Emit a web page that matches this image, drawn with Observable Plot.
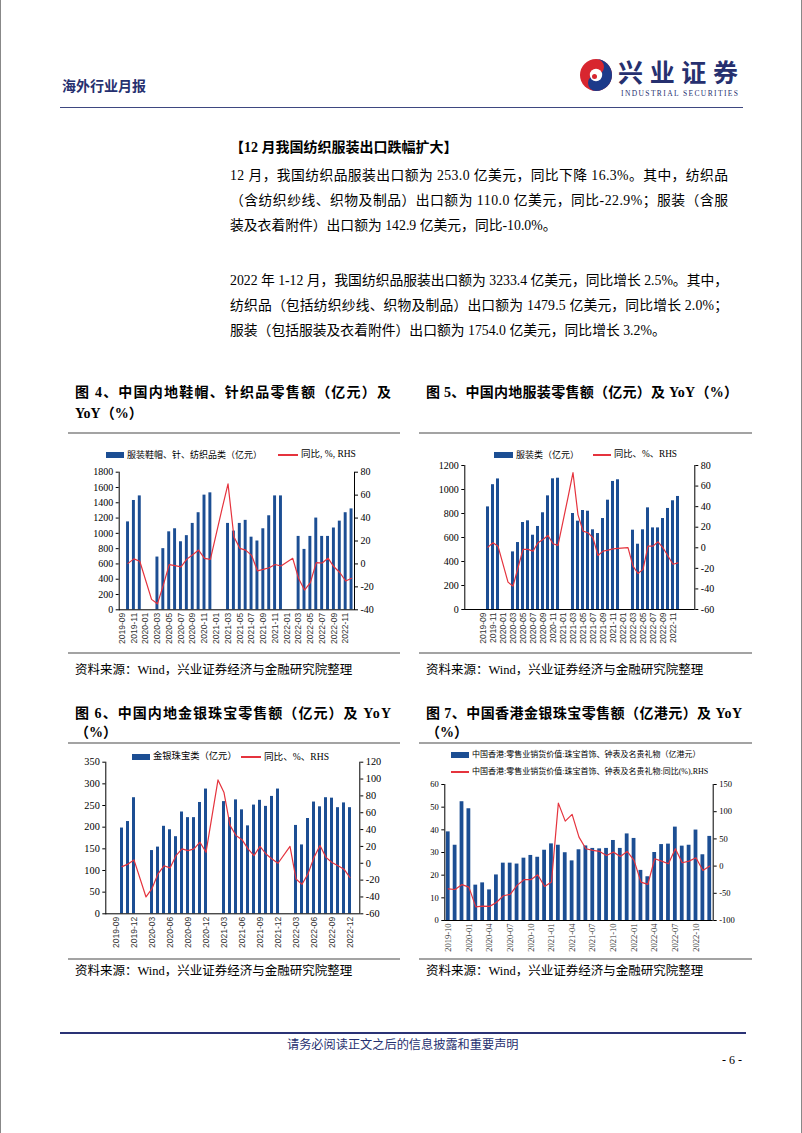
<!DOCTYPE html>
<html><head><meta charset="utf-8">
<script src="https://cdn.jsdelivr.net/npm/d3@7"></script>
<script src="https://cdn.jsdelivr.net/npm/@observablehq/plot@0.6"></script>
<style>
body{margin:0;background:#fff}
#page{position:relative;width:802px;height:1133px;overflow:hidden;background:#fff;
  font-family:"Liberation Serif","Noto Sans CJK SC",serif;border-left:1px solid #888;border-right:1px solid #888;box-sizing:border-box}
.t{position:absolute;white-space:nowrap;color:#000}
.abs{position:absolute}
</style></head>
<body><div id="page"></div>
<script>
// ---------- data ----------
const monthsA = ["2019-09","2019-10","2019-11","2019-12",
 "2020-01","2020-02","2020-03","2020-04","2020-05","2020-06","2020-07","2020-08","2020-09","2020-10","2020-11","2020-12",
 "2021-01","2021-02","2021-03","2021-04","2021-05","2021-06","2021-07","2021-08","2021-09","2021-10","2021-11","2021-12",
 "2022-01","2022-02","2022-03","2022-04","2022-05","2022-06","2022-07","2022-08","2022-09","2022-10","2022-11","2022-12"];
const monthsB = ["2019-10","2019-11","2019-12",
 "2020-01","2020-02","2020-03","2020-04","2020-05","2020-06","2020-07","2020-08","2020-09","2020-10","2020-11","2020-12",
 "2021-01","2021-02","2021-03","2021-04","2021-05","2021-06","2021-07","2021-08","2021-09","2021-10","2021-11","2021-12",
 "2022-01","2022-02","2022-03","2022-04","2022-05","2022-06","2022-07","2022-08","2022-09","2022-10","2022-11","2022-12"];

// Chart 4: 服装鞋帽、针、纺织品类（亿元） and YoY
const sales4 = [null,1150,1430,1490,
 null,null,690,800,1020,1060,890,970,1130,1270,1500,1530,
 null,null,1130,1030,1130,1170,950,900,1060,1230,1490,1490,
 null,null,960,790,960,1200,960,960,1070,1160,1270,1320];
const yoy4 = [null,0.5,4.4,2.3,
 null,-30.9,-34.8,-18.5,-0.6,-1.5,-2.5,4.2,8.0,12.1,4.8,4.0,
 null,48.4,69.8,23.7,13.6,12.0,7.5,-6.0,-4.8,-3.3,-0.5,-1.8,
 null,4.9,-12.7,-22.8,-16.2,1.2,0.8,5.0,-2.5,-7.5,-14.9,-12.5];

// Chart 5: 服装类（亿元） and YoY
const sales5 = [null,855,1040,1088,
 null,null,480,558,725,739,619,692,806,947,1089,1094,
 null,null,800,736,825,819,664,633,758,911,1067,1081,
 null,null,661,544,664,847,680,680,758,842,906,942];
const yoy5 = [null,0.6,4.9,1.6,
 null,-33.4,-37.3,-19.4,-1.6,-1.6,-3.2,4.9,8.1,12.0,3.9,2.3,
 null,49,73,32,16.2,14.6,9.7,-7.5,-3.2,-2.3,-1.0,-0.6,
 null,0.2,-17.8,-25,-21,1.6,1.6,5.8,0,-8,-16,-14.6];

// Chart 6: 金银珠宝类（亿元） and YoY
const sales6 = [null,198,213,268,
 null,null,146,154,202,194,178,235,222,222,257,288,
 null,null,259,222,263,240,203,251,262,248,271,288,
 null,null,204,159,220,258,247,268,267,245,256,245];
const yoy6 = [null,-4,-1,4,
 null,-40,-30,-12.6,-3,-5.5,9,17,15,17,25,13,
 null,99,84,45,33,28,17,9,20,11,5,0,
 null,20,-18.6,-25,-12.6,7,21,7,1,-3,-7,-17];

// Chart 7: 中国香港 珠宝首饰、钟表及名贵礼物（亿港元） and YoY
const sales7 = [39.1,33.2,52.4,
 49.3,15.6,16.6,13.5,20.1,25.3,25.3,24.9,27.5,28.7,27.9,31.0,
 33.8,33.2,29.9,26.3,31.2,32.9,31.8,31.6,31.8,35.3,31.8,38.2,
 36.2,22.1,19.3,30.0,33.5,33.7,41.2,32.8,33.2,39.9,29.0,37.1];
const yoy7 = [-41.7,-43,-34,
 -38.6,-75,-73.5,-74,-67,-54.5,-52,-35.5,-25,-25,-16,-37.4,
 -29.4,115.8,82.7,95,53.3,31.9,28.8,27,19.6,25.7,17.8,27,
 10.4,-29.4,-33.7,13.5,9.2,4.3,31.9,6.1,9.2,15.3,-8,0];

const ticks4 = ["2019-09","2019-11","2020-01","2020-03","2020-05","2020-07","2020-09","2020-11","2021-01","2021-03","2021-05","2021-07","2021-09","2021-11","2022-01","2022-03","2022-05","2022-07","2022-09","2022-11"];
const ticks6 = ["2019-09","2019-12","2020-03","2020-06","2020-09","2020-12","2021-03","2021-06","2021-09","2021-12","2022-03","2022-06","2022-09","2022-12"];
const ticks7 = ["2019-10","2020-01","2020-04","2020-07","2020-10","2021-01","2021-04","2021-07","2021-10","2022-01","2022-04","2022-07","2022-10"];

const left4 = [0,200,400,600,800,1000,1200,1400,1600,1800], right4 = [-40,-20,0,20,40,60,80];
const left5 = [0,200,400,600,800,1000,1200], right5 = [-60,-40,-20,0,20,40,60,80];
const left6 = [0,50,100,150,200,250,300,350], right6 = [-60,-40,-20,0,20,40,60,80,100,120];
const left7 = [0,10,20,30,40,50,60], right7 = [-100,-50,0,50,100,150];

// ---------- page helpers ----------
const BLUE = "#1c4e93", RED = "#e5333d", NAVY = "#26306f";
const page = document.getElementById("page");
function txt(x, y, s, o = {}) {
  const d = document.createElement("div");
  const size = o.size || 14;
  d.className = "t";
  d.textContent = s;
  d.style.left = x + "px";
  d.style.top = (y - size * 0.6) + "px";
  d.style.fontSize = size + "px";
  d.style.lineHeight = (size * 1.2) + "px";
  d.style.height = (size * 1.2) + "px";
  if (o.weight) d.style.fontWeight = o.weight;
  if (o.color) d.style.color = o.color;
  if (o.family) d.style.fontFamily = o.family;
  page.appendChild(d);
  if (o.width) {
    const w = d.getBoundingClientRect().width;
    const n = [...s].length;
    d.style.letterSpacing = ((o.width - w) / (n - 1)) + "px";
  }
  return d;
}
function box(x, y, w, h, color) {
  const d = document.createElement("div");
  d.className = "abs";
  Object.assign(d.style, {left: x + "px", top: y + "px", width: w + "px", height: h + "px", background: color});
  page.appendChild(d);
}

// ---------- header ----------
txt(61, 87, "海外行业月报", {size: 14, weight: 700, color: NAVY});
box(59, 106.5, 683, 1.5, "#3e4780");
const logo = document.createElementNS("http://www.w3.org/2000/svg", "svg");
logo.setAttribute("width", 170); logo.setAttribute("height", 50);
logo.style.position = "absolute"; logo.style.left = "574px"; logo.style.top = "52px";
logo.innerHTML = `
  <circle cx="21" cy="23" r="16" fill="#d8262f"/>
  <path d="M21,7 A16,16 0 0 1 21,39 A8,8 0 0 1 21,23 A8,8 0 0 0 21,7 Z" fill="#1d3a8a"/>
  <circle cx="21" cy="23" r="6.2" fill="#fff"/>
  <circle cx="19.5" cy="24.5" r="2.5" fill="#d8262f"/>
  <text x="43" y="30" font-family="Noto Sans CJK SC" font-weight="700" font-size="25" fill="${NAVY}" textLength="120" lengthAdjust="spacing">兴业证券</text>
  <text x="46" y="44" font-family="Liberation Serif" font-size="7.5" fill="${NAVY}" textLength="117" lengthAdjust="spacing">INDUSTRIAL SECURITIES</text>`;
page.appendChild(logo);

// ---------- body text ----------
txt(229, 148, "【12 月我国纺织服装出口跌幅扩大】", {size: 14, weight: 700});
const PW = 498, PS = 13.8;
txt(229, 176, "12 月，我国纺织品服装出口额为 253.0 亿美元，同比下降 16.3%。其中，纺织品", {size: PS, width: PW});
txt(229, 201, "（含纺织纱线、织物及制品）出口额为 110.0 亿美元，同比-22.9%；服装（含服", {size: PS, width: PW});
txt(229, 226, "装及衣着附件）出口额为 142.9 亿美元，同比-10.0%。", {size: PS});
txt(229, 281, "2022 年 1-12 月，我国纺织品服装出口额为 3233.4 亿美元，同比增长 2.5%。其中，", {size: PS, width: PW});
txt(229, 306, "纺织品（包括纺织纱线、织物及制品）出口额为 1479.5 亿美元，同比增长 2.0%；", {size: PS, width: PW});
txt(229, 331, "服装（包括服装及衣着附件）出口额为 1754.0 亿美元，同比增长 3.2%。", {size: PS});

// ---------- chart titles, rules, sources ----------
const TS = 14;
txt(74, 393, "图 4、中国内地鞋帽、针织品零售额（亿元）及", {size: TS, weight: 700, width: 316});
txt(74, 414, "YoY（%）", {size: TS, weight: 700});
txt(425, 393, "图 5、中国内地服装零售额（亿元）及 YoY（%）", {size: TS, weight: 700, width: 312});
box(67, 431.5, 332, 2, "#a3a3a3"); box(418, 431.5, 333, 2, "#a3a3a3");
box(67, 651.5, 332, 2, "#a3a3a3"); box(418, 651.5, 333, 2, "#a3a3a3");
txt(74, 670, "资料来源：Wind，兴业证券经济与金融研究院整理", {size: 12.5});
txt(425, 670, "资料来源：Wind，兴业证券经济与金融研究院整理", {size: 12.5});

txt(74, 714, "图 6、中国内地金银珠宝零售额（亿元）及 YoY", {size: TS, weight: 700, width: 316});
txt(74, 733, "（%）", {size: TS, weight: 700});
txt(425, 714, "图 7、中国香港金银珠宝零售额（亿港元）及 YoY", {size: TS, weight: 700, width: 316});
txt(425, 733, "（%）", {size: TS, weight: 700});
box(67, 741.5, 332, 2, "#a3a3a3"); box(418, 741.5, 333, 2, "#a3a3a3");
box(67, 958, 332, 2, "#a3a3a3"); box(418, 958, 333, 2, "#a3a3a3");
txt(74, 971, "资料来源：Wind，兴业证券经济与金融研究院整理", {size: 12.5});
txt(425, 971, "资料来源：Wind，兴业证券经济与金融研究院整理", {size: 12.5});

// ---------- footer ----------
box(58.5, 1031.5, 686, 2, "#2a3275");
txt(286, 1045, "请务必阅读正文之后的信息披露和重要声明", {size: 12.2, color: NAVY});
txt(721, 1060, "- 6 -", {size: 12});

// ---------- legends ----------
function legendBar(x, y, w, label, size) { box(x, y - 3, w, 6, BLUE); txt(x + w + 3, y, label, {size}); }
function legendLine(x, y, w, label, size) { box(x, y - 0.6, w, 1.3, RED); txt(x + w + 3, y, label, {size}); }
legendBar(105, 455, 18, "服装鞋帽、针、纺织品类（亿元）", 9);
legendLine(277, 455, 20, "同比, %, RHS", 9.5);
legendBar(493, 455, 19, "服装类（亿元）", 9);
legendLine(592, 455, 18, "同比、%、RHS", 9.3);
legendBar(131, 757, 18, "金银珠宝类（亿元）", 9.3);
legendLine(240, 757, 20, "同比、%、RHS", 9.6);
legendBar(450, 755, 18, "中国香港:零售业销货价值:珠宝首饰、钟表及名贵礼物（亿港元）", 8);
legendLine(450, 772, 18, "中国香港:零售业销货价值:珠宝首饰、钟表及名贵礼物:同比(%),RHS", 8);

// ---------- charts ----------
function dualChart(cfg) {
  const {months, bars, line, lDom, lTicks, rDom, rTicks, xTicks, left, top, width, height, m, fy, fx, xFamily, pin} = cfg;
  const toL = v => lDom[0] + (v - rDom[0]) / (rDom[1] - rDom[0]) * (lDom[1] - lDom[0]);
  const fromL = v => rDom[0] + (v - lDom[0]) / (lDom[1] - lDom[0]) * (rDom[1] - rDom[0]);
  const barData = months.map((mm, i) => ({m: mm, v: bars[i]})).filter(d => d.v != null);
  const lineData = months.map((mm, i) => ({m: mm, v: line[i]})).filter(d => d.v != null).map(d => ({m: d.m, y: toL(d.v)}));
  const svg = Plot.plot({
    width, height,
    marginLeft: m[3], marginRight: m[1], marginTop: m[0], marginBottom: m[2],
    style: {fontFamily: "Liberation Serif, serif", fontSize: fy + "px", color: "#000", background: "transparent", overflow: "visible"},
    x: {type: "band", domain: months, paddingInner: pin, paddingOuter: pin / 2, axis: null},
    y: {domain: lDom, axis: null},
    marks: [
      Plot.barY(barData, {x: "m", y: "v", fill: BLUE}),
      Plot.lineY(lineData, {x: "m", y: "y", stroke: RED, strokeWidth: 1.2}),
      Plot.frame({anchor: "left", stroke: "#000"}),
      Plot.frame({anchor: "right", stroke: "#000"}),
      Plot.ruleY([lDom[0]], {stroke: "#000"}),
      Plot.axisY({anchor: "left", label: null, ticks: lTicks, tickFormat: d => String(d), tickSize: 3, tickPadding: 3}),
      Plot.axisY({anchor: "right", label: null, ticks: rTicks.map(toL), tickFormat: d => String(Math.round(fromL(d))), tickSize: 3, tickPadding: 3}),
      Plot.axisX({label: null, ticks: xTicks, tickRotate: -90, tickSize: 0, tickPadding: 3})
    ]
  });
  d3.select(svg).selectAll('g[aria-label="x-axis tick label"]')
    .attr("font-family", xFamily).attr("font-size", fx).attr("fill", "#333");
  svg.style.position = "absolute";
  svg.style.left = left + "px";
  svg.style.top = top + "px";
  page.appendChild(svg);
}

dualChart({months: monthsA, bars: sales4, line: yoy4, lDom: [0, 1800], lTicks: left4, rDom: [-40, 80], rTicks: right4,
  xTicks: ticks4, left: 67, top: 462, width: 332, height: 190, m: [9.7, 46, 42.7, 50.7], fy: 10, fx: 8.5,
  xFamily: "Liberation Sans, sans-serif", pin: 0.5});
dualChart({months: monthsA, bars: sales5, line: yoy5, lDom: [0, 1200], lTicks: left5, rDom: [-60, 80], rTicks: right5,
  xTicks: ticks4, left: 418, top: 455, width: 333, height: 197, m: [10, 57.7, 43, 45.3], fy: 10, fx: 8.5,
  xFamily: "Liberation Sans, sans-serif", pin: 0.5});
dualChart({months: monthsA, bars: sales6, line: yoy6, lDom: [0, 350], lTicks: left6, rDom: [-60, 120], rTicks: right6,
  xTicks: ticks6, left: 67, top: 755, width: 332, height: 203, m: [6.7, 40.7, 44.7, 37.3], fy: 10.3, fx: 8.5,
  xFamily: "Liberation Sans, sans-serif", pin: 0.5});
dualChart({months: monthsB, bars: sales7, line: yoy7, lDom: [0, 60], lTicks: left7, rDom: [-100, 150], rTicks: right7,
  xTicks: ticks7, left: 418, top: 775, width: 333, height: 183, m: [9, 39.3, 38, 25.3], fy: 8.5, fx: 8.5,
  xFamily: "Liberation Serif, serif", pin: 0.45});
</script>
</body></html>
